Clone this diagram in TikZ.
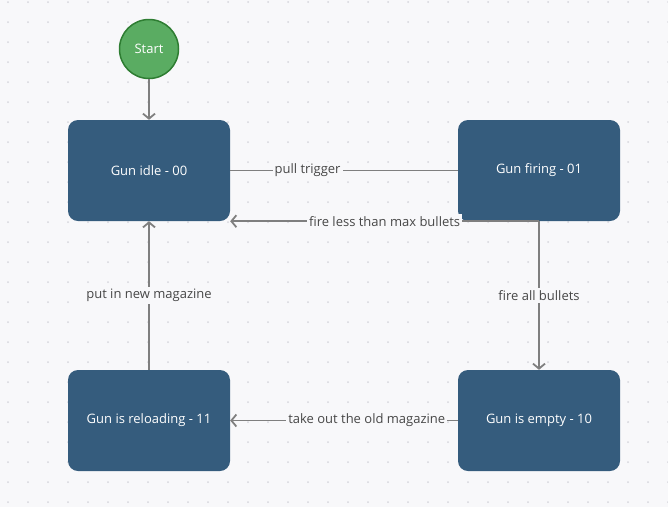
\documentclass[tikz,border=0pt]{standalone}
\usepackage{fontspec}
\setmainfont{Open Sans}
\usetikzlibrary{arrows.meta}
\definecolor{pagebg}{HTML}{F8F8FA}
\definecolor{gridc}{HTML}{D6D6DC}
\definecolor{statec}{HTML}{355C7D}
\definecolor{startc}{HTML}{5AAC62}
\definecolor{startb}{HTML}{2E7D32}
\definecolor{linec}{HTML}{7F7F7F}
\definecolor{lblc}{HTML}{474747}

\begin{document}
\begin{tikzpicture}[x=1pt, y=-1pt,
    state/.style={fill=statec, rounded corners=10pt, minimum width=162pt, minimum height=101pt,
      text=white, font=\fontsize{13}{15}\selectfont},
    startnode/.style={circle, fill=startc, draw=startb, line width=1.5pt, minimum size=59pt,
      text=white, font=\fontsize{13}{15}\selectfont},
    trans/.style={draw=linec, line width=1.8pt},
    lbl/.style={fill=pagebg, text=lblc, inner sep=2pt, font=\fontsize{13}{15}\selectfont},
    >={Straight Barb[length=5pt,width=12pt]}]
      \def \w {668}
      \def \h {507}

      % background with dot grid
      \fill[pagebg] (0,0) rectangle (\w,\h);
      \useasboundingbox (0,0) rectangle (\w,\h);
      \foreach \x in {8,28,...,668}
      {
        \foreach \y in {2,22,...,507}
        {
          \fill[gridc] (\x,\y) circle (1pt);
        }
      }

      \node[startnode](start) at (149,49) {Start};
      \node[state](idle) at (149,170.5) {Gun idle - 00};
      \node[state](firing) at (539,170.5) {Gun firing - 01};
      \node[state](reload) at (149,420.5) {Gun is reloading - 11};
      \node[state](empty) at (539,420.5) {Gun is empty - 10};

      \draw[trans, ->] (start) -- (idle);
      \draw[trans] (idle.east) -- node[lbl, pos=0.34]{pull trigger} (firing.west);
      \draw[trans, ->] (firing.south) -- node[lbl]{fire less than max bullets} (firing.south -| idle.east);
      \draw[trans, ->] (firing.south) -- node[lbl]{fire all bullets} (empty.north);
      \draw[trans, ->] (empty.west) -- node[lbl, pos=0.4]{take out the old magazine} (reload.east);
      \draw[trans, ->] (reload.north) -- node[lbl]{put in new magazine} (idle.south);
\end{tikzpicture}
\end{document}
